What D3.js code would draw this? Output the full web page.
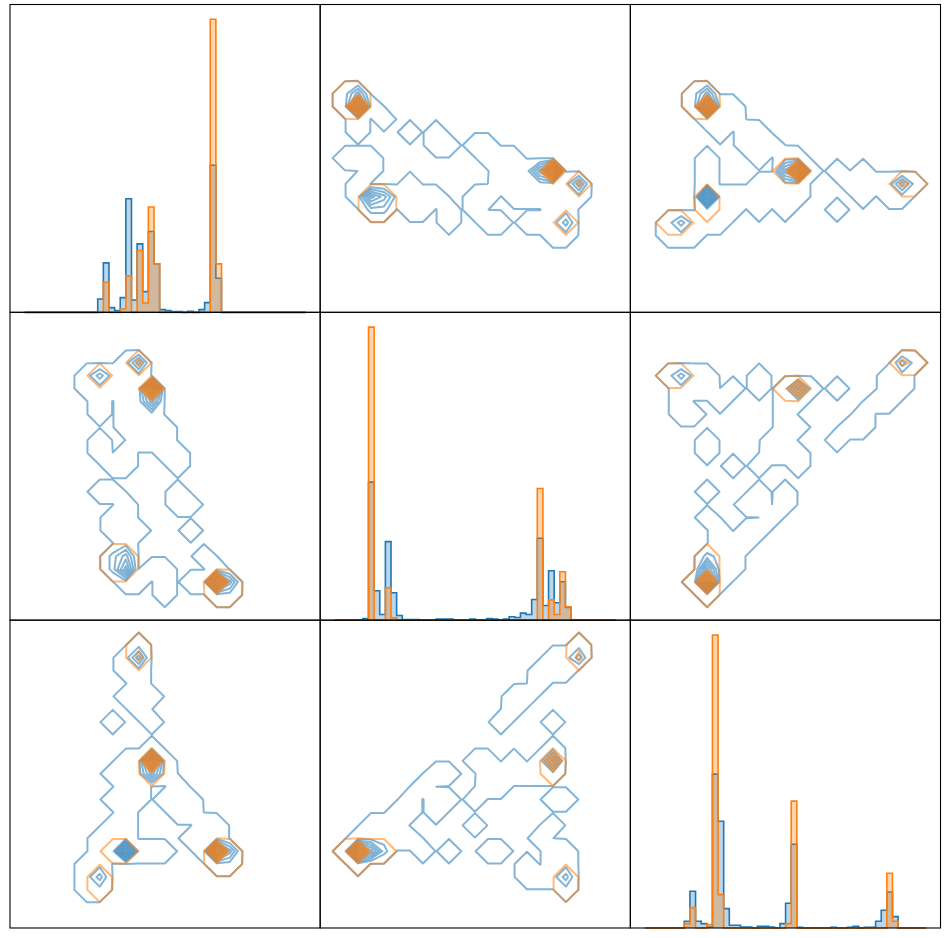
<!DOCTYPE html>
<html>
<head>
<meta charset="utf-8">
<script src="https://cdn.jsdelivr.net/npm/d3@7"></script>
<style>
  body { margin: 0; background: #fff; }
</style>
</head>
<body>
<div id="chart"></div>
<script>
// ---- histogram counts, 50 bins per variable ----
const histBlue0 = [0,0,0,0,0,0,0,0,0,0, 0,0,0,40,148,14,5,44,340,37,
  205,62,242,145,8,5,2,2,0,3, 0,8,29,440,102,0,0,0,0,0, 0,0,0,0,0,0,0,0,0,0];
const histOrange0 = [0,0,0,0,0,0,0,0,0,0, 0,0,0,0,90,0,0,10,109,0,
  185,28,315,145,0,0,0,0,0,0, 0,0,0,877,145,0,0,0,0,0, 0,0,0,0,0,0,0,0,0,0];
const histBlue1 = [0,0,0,0,0,5,413,88,17,235, 82,14,2,2,2,0,0,0,3,3,
  3,0,0,0,3,0,0,5,3,0, 3,10,8,21,17,62,245,44,148,52, 115,38,0,0,0,0,0,0,0,0];
const histOrange1 = [0,0,0,0,0,0,877,0,0,97, 7,0,0,0,0,0,0,0,0,0,
  0,0,0,0,0,0,0,0,0,0, 0,0,0,0,0,0,394,0,61,17, 145,40,0,0,0,0,0,0,0,0];
const histBlue2 = [0,0,0,0,0,0,0,20,110,20, 13,3,461,320,58,8,8,3,3,0,
  5,5,3,0,13,74,251,2,0,0, 0,0,0,2,0,0,2,5,0,2, 2,20,53,108,34,0,0,0,0,0];
const histOrange2 = [0,0,0,0,0,0,0,13,61,0, 0,10,878,100,0,0,0,0,0,0,
  0,0,0,0,0,13,380,0,0,0, 0,0,0,0,0,0,0,0,0,0, 0,0,0,164,20,0,0,0,0,0];

// ---- 2d density grids (23x23), [row, values from col 0]; '.' = empty ----
// upper panels as seen on screen; lower panels are their mirror images
const blue01 = [[6,'.14'],[7,'.191'],[8,'..1.1'],[9,'..1...1.1'],[10,'........11.11'],
  [11,'.111........111'],[12,'...1.........11159'],[13,'..1...1......1111114'],
  [14,'..1641111..11.111111'],[15,'...22.11.1.1.....11'],[16,'.........1..11.1113'],
  [17,'.................11']];
const orange01 = [[6,'.11'],[7,'.19'],[12,'.................9'],[13,'...................2'],
  [14,'...11'],[15,'...11'],[16,'..................1']];

const blue02 = [[6,'....14'],[7,'....1911'],[8,'.....111'],[9,'......1.11'],[10,'........111'],
  [11,'.....1...1.11'],[12,'.....1.....591.1.1'],[13,'.....1...1111...111141'],
  [14,'.....91111111....1.11'],[15,'.....111.1.1...1'],[16,'..13111'],[17,'..111']];
const orange02 = [[6,'....11'],[7,'....19'],[12,'...........19'],[13,'....................21'],
  [14,'.....1'],[15,'.....1'],[16,'..11']];

const blue12 = [[3,'....................31'],[4,'..1311...1.........11'],
  [5,'...111.1.1.151.1...11'],[6,'...1..1....11.....11'],[7,'...11......1.....1'],
  [8,'...........11...11'],[9,'.....1....11...1'],[10,'.....1....111'],[11,'.......1.1..1'],
  [13,'.....1...1.1'],[14,'........11.1'],[15,'.....1....1'],[16,'......1.11'],
  [17,'......111'],[18,'.....211'],[19,'.....611'],[20,'....191'],[21,'.....1']];
const orange12 = [[3,'....................21'],[4,'..11'],[5,'...........15'],
  [18,'.....1'],[19,'.....1'],[20,'....19'],[21,'.....1']];

const levels = [0.05, 1.5, 2.5, 3.5, 4.5, 5.5, 6.5, 7.5, 8.5];

// ---- layout ----
const width = 944, height = 938;
const panelX = 10, panelY = 4.5, panelW = 310.17, panelH = 307.83;
const GRID = 23;
const blue = '#1f77b4', orange = '#ff7f0e';

const svg = d3.select('#chart').append('svg')
  .attr('width', width).attr('height', height)
  .style('display', 'block');

function gridValues(rows) {
  const v = new Float64Array(GRID * GRID);
  rows.forEach(([r, s]) => {
    for (let c = 0; c < s.length; c++) v[r * GRID + c] = s[c] === '.' ? 0 : +s[c];
  });
  return v;
}

// mirror across the anti-diagonal (x and y variables swapped)
function mirror(v) {
  const out = new Float64Array(v.length);
  for (let r = 0; r < GRID; r++)
    for (let c = 0; c < GRID; c++)
      out[r * GRID + c] = v[(GRID - 1 - c) * GRID + (GRID - 1 - r)];
  return out;
}

// matplotlib joins diagonal neighbours in saddle cells, d3 splits them;
// lift one empty corner just over the lowest level so the cell stays joined
function joinSaddles(v, t) {
  let changed = true;
  while (changed) {
    changed = false;
    for (let y = 0; y < GRID - 1; y++) {
      for (let x = 0; x < GRID - 1; x++) {
        const i = y * GRID + x;
        const a = v[i] >= t, b = v[i + 1] >= t, c = v[i + GRID] >= t, d = v[i + GRID + 1] >= t;
        if (a === d && b === c && a !== b) {
          v[a ? i + 1 : i] = t * 1.04;
          changed = true;
        }
      }
    }
  }
}

function drawContours(g, values, color, xs, ys) {
  const v = Float64Array.from(values);
  joinSaddles(v, levels[0]);
  const cs = d3.contours().size([GRID, GRID]).thresholds(levels)(v);
  const proj = d3.geoTransform({
    point(x, y) { this.stream.point(xs(x - 0.5), ys(y - 0.5)); }
  });
  const path = d3.geoPath(proj);
  g.append('g').selectAll('path')
    .data(cs.filter(d => d.coordinates.length))
    .join('path')
    .attr('d', path)
    .attr('fill', 'none')
    .attr('stroke', color)
    .attr('stroke-opacity', 0.55)
    .attr('stroke-width', 2)
    .attr('stroke-linejoin', 'round');
}

function drawHist(g, blueCounts, orangeCounts, x0, y0) {
  const xs = d3.scaleLinear().domain([0, 50]).range([x0 + 0.047 * panelW, x0 + 0.954 * panelW]);
  const ys = d3.scaleLinear().domain([0, d3.max(blueCounts.concat(orangeCounts))])
    .range([y0 + panelH, y0 + 0.048 * panelH]);
  [[blueCounts, blue, 0.3], [orangeCounts, orange, 0.33]].forEach(([counts, color, alpha]) => {
    const pts = counts.map((c, i) => [i, c]).concat([[50, counts[49]]]);
    const area = d3.area().x(d => xs(d[0])).y0(ys(0)).y1(d => ys(d[1])).curve(d3.curveStepAfter);
    const line = d3.line().x(d => xs(d[0])).y(d => ys(d[1])).curve(d3.curveStepAfter);
    g.append('path').attr('d', area(pts)).attr('fill', color).attr('fill-opacity', alpha);
    g.append('path').attr('d', line(pts)).attr('fill', 'none')
      .attr('stroke', color).attr('stroke-width', 1.6);
  });
}

const hists = [[histBlue0, histOrange0], [histBlue1, histOrange1], [histBlue2, histOrange2]];
const pairGrids = {
  '0,1': [gridValues(blue01), gridValues(orange01)],
  '0,2': [gridValues(blue02), gridValues(orange02)],
  '1,2': [gridValues(blue12), gridValues(orange12)]
};

for (let row = 0; row < 3; row++) {
  for (let col = 0; col < 3; col++) {
    const x0 = panelX + col * panelW, y0 = panelY + row * panelH;
    const g = svg.append('g');
    if (row === col) {
      drawHist(g, hists[row][0], hists[row][1], x0, y0);
    } else {
      const key = row < col ? `${row},${col}` : `${col},${row}`;
      let [bv, ov] = pairGrids[key];
      if (row > col) { bv = mirror(bv); ov = mirror(ov); }
      const xs = d3.scaleLinear().domain([0, GRID - 1]).range([x0 + 0.038 * panelW, x0 + 0.96 * panelW]);
      const ys = d3.scaleLinear().domain([0, GRID - 1]).range([y0 + 0.038 * panelH, y0 + 0.96 * panelH]);
      drawContours(g, bv, blue, xs, ys);
      drawContours(g, ov, orange, xs, ys);
    }
  }
}

// axes frames
for (let row = 0; row < 3; row++) {
  for (let col = 0; col < 3; col++) {
    svg.append('rect')
      .attr('x', panelX + col * panelW).attr('y', panelY + row * panelH)
      .attr('width', panelW).attr('height', panelH)
      .attr('fill', 'none').attr('stroke', '#000').attr('stroke-width', 1.1);
  }
}
</script>
</body>
</html>
